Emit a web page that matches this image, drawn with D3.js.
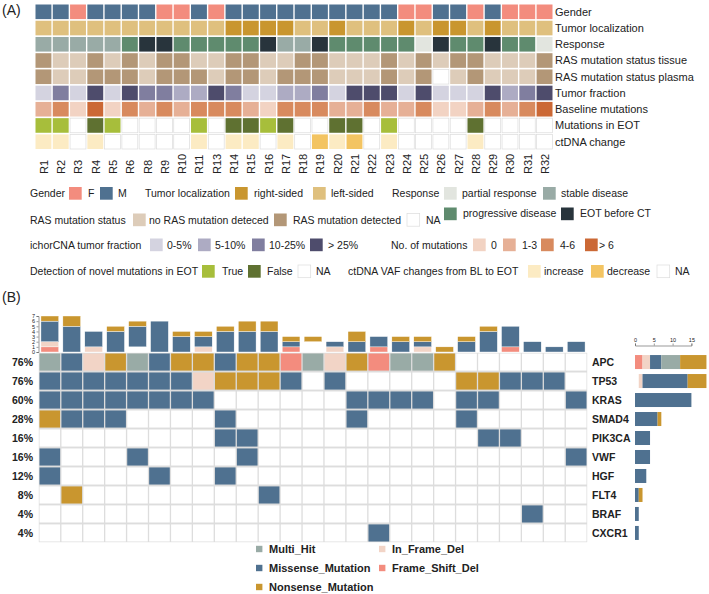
<!DOCTYPE html>
<html><head><meta charset="utf-8">
<script src="https://cdn.jsdelivr.net/npm/d3@7"></script>
<style>
body{margin:0;background:#fff}
text{font-family:"Liberation Sans",Arial,sans-serif;fill:#222}
</style>
</head><body>
<svg id="c" width="709" height="594"></svg>
<script>
// ---------- Panel A data ----------
const samplesA = ["R1","R2","R3","R4","R5","R6","R8","R9","R10","R11","R13","R14","R15","R16","R17","R18","R19","R20","R21","R22","R23","R24","R25","R26","R27","R28","R29","R30","R31","R32"];
const rowNamesA = ["Gender","Tumor localization","Response","RAS mutation status tissue","RAS mutation status plasma","Tumor fraction","Baseline mutations","Mutations in EOT","ctDNA change"];
const gender    = ["M","M","F","M","M","M","M","F","F","M","F","M","M","M","M","M","M","M","M","M","M","F","F","M","M","F","M","F","F","F"];
const tumorLoc  = ["L","L","L","L","L","L","L","L","L","L","L","R","R","R","R","L","L","R","L","L","L","R","L","R","R","L","R","L","L","L"];
const response  = ["S","S","S","S","S","P","E","E","P","P","P","P","P","E","S","S","E","P","P","P","P","P","R","E","P","P","E","P","P","R"];
const rasTissue = ["D","N","N","D","N","D","N","D","D","N","N","D","D","N","N","D","D","N","N","N","D","N","D","N","D","D","N","N","N","D"];
const rasPlasma = ["D","N","N","D","D","D","N","D","D","D","N","D","D","N","D","D","D","N","N","N","D","N","D","NA","N","D","N","N","N","D"];
const tumorFrac = ["0-5%","10-25%","0-5%",">25%","0-5%",">25%","10-25%","10-25%","5-10%","5-10%",">25%","10-25%","0-5%","0-5%","5-10%","5-10%","10-25%","0-5%",">25%",">25%",">25%","0-5%",">25%","0-5%","0-5%","0-5%",">25%","5-10%","10-25%",">25%"];
const baseMut   = ["1-3","4-6","0",">6","0","4-6","1-3","4-6","1-3","4-6","4-6","4-6","1-3","0","4-6","4-6","4-6","1-3","1-3","4-6","1-3","1-3","4-6","0","0","1-3","4-6","1-3","4-6",">6"];
const eotMut    = ["T","T","NA","F","T","NA","NA","NA","NA","T","NA","F","F","T","F","NA","NA","F","F","NA","T","NA","NA","NA","NA","F","NA","NA","NA","NA"];
const ctdnaChg  = ["I","I","NA","I","NA","NA","NA","NA","NA","I","NA","I","I","NA","I","NA","D","I","D","NA","I","NA","NA","NA","NA","I","NA","NA","NA","NA"];

// ---------- Panel B data ----------
const genes = ["APC","TP53","KRAS","SMAD4","PIK3CA","VWF","HGF","FLT4","BRAF","CXCR1"];
const genePct = ["76%","76%","60%","28%","16%","16%","12%","8%","4%","4%"];
// H=Multi_Hit M=Missense N=Nonsense I=In_Frame_Del F=Frame_Shift_Del .=none
const oncoAPC   = "HMINHMNNMNNFHINFHHN......".split("");
const oncoTP53  = "MMMMMMMINNNM.M.....NNMMM.".split("");
const oncoKRAS  = "MMMMMMMM......MMMM.MM...M".split("");
const oncoSMAD4 = "NMMM....M.....M....M.....".split("");
const oncoPIK3CA= "........MM..........MM...".split("");
const oncoVWF   = "M...M....M..............M".split("");
const oncoHGF   = "M....M..M................".split("");
const oncoFLT4  = ".N........M..............".split("");
const oncoBRAF  = "......................M..".split("");
const oncoCXCR1 = "...............M.........".split("");
const oncoRows = [oncoAPC,oncoTP53,oncoKRAS,oncoSMAD4,oncoPIK3CA,oncoVWF,oncoHGF,oncoFLT4,oncoBRAF,oncoCXCR1];
// per-sample variant counts (top bar)
const tmbOther = [0,0,0,0,1,0,0,0,0,0,0,0,2,0,0,0,0,0,0,0,0,0,0,0,0];
const tmbFS    = [1,0,0,0,0,0,0,0,0,0,0,1,0,0,0,1,0,0,0,0,0,1,0,0,0];
const tmbIF    = [1,0,1,0,0,0,0,1,0,0,0,0,0,1,0,0,0,1,0,0,0,0,0,0,0];
const tmbMis   = [4,5,3,4,4,6,3,2,4,4,4,1,0,1,2,2,2,1,0,2,4,4,2,1,2];
const tmbNon   = [1,2,0,1,1,0,1,1,1,2,2,1,1,0,2,0,1,1,1,1,1,0,0,0,0];
const sideOffset = [0,1,0,0,0,0,0,0,0,0];
const topTicks = [0,1,2,3,4,5,6,7];
const sideTicks = [0,5,10,15];

// ---------- colours ----------
const cGender = {F:"#F38C7E", M:"#4F7190"};
const cLoc = {R:"#C9962F", L:"#DFC07E"};
const cResp = {R:"#E2E5DF", S:"#99ABA6", P:"#5F8B6E", E:"#28343C"};
const cRas = {N:"#DDCCB9", D:"#B39777", NA:"#FFFFFF"};
const cFrac = {"0-5%":"#D4D3E0","5-10%":"#ADABC3","10-25%":"#807E9F",">25%":"#4E4C6C"};
const cMut = {"0":"#F2D3C3","1-3":"#E6B096","4-6":"#D88A5E",">6":"#CB6835"};
const cEot = {T:"#A7BE3B", F:"#5F7131", NA:"#FFFFFF"};
const cCt = {I:"#FCEBC3", D:"#F3C462", NA:"#FFFFFF"};
const cVar = {H:"#99ABA6", M:"#4F7190", N:"#C9962F", I:"#F2D4C6", F:"#F38C7E", O:"#FFFFFF"};

const svg = d3.select("#c");

// ---------- Panel A ----------
svg.append("text").attr("x",2).attr("y",15).attr("font-size",14).text("(A)");
const rowsA = [[gender,cGender],[tumorLoc,cLoc],[response,cResp],[rasTissue,cRas],[rasPlasma,cRas],[tumorFrac,cFrac],[baseMut,cMut],[eotMut,cEot],[ctdnaChg,cCt]];
const xA = d3.scaleBand().domain(samplesA).range([35.5,552.5]).paddingInner(0.08);
const yA = d3.scaleBand().domain(rowNamesA).range([4.5,149]).paddingInner(0.1);
const gA = svg.append("g");
rowsA.forEach(([vals,cmap],ri)=>{
  gA.selectAll(null).data(vals).enter().append("rect")
    .attr("x",(d,i)=>xA(samplesA[i])).attr("y",yA(rowNamesA[ri]))
    .attr("width",xA.bandwidth()).attr("height",yA.bandwidth())
    .attr("fill",d=>cmap[d]||"#fff")
    .attr("stroke",d=>(d==="NA")?"#dcdcdc":"none").attr("stroke-width",0.7);
});
gA.selectAll(null).data(rowNamesA).enter().append("text")
  .attr("x",555).attr("y",d=>yA(d)+yA.bandwidth()/2).attr("dy","0.36em")
  .attr("font-size",11).text(d=>d);
gA.selectAll(null).data(samplesA).enter().append("text")
  .attr("transform",d=>`translate(${xA(d)+xA.bandwidth()/2+0.5},174) rotate(-90)`)
  .attr("dy","0.36em").attr("font-size",11).text(d=>d);

// legend A
const legA = svg.append("g").attr("font-size",10.5);
function sw(x,y,c){legA.append("rect").attr("x",x).attr("y",y).attr("width",12.7).attr("height",12.7).attr("fill",c).attr("stroke",c==="#FFFFFF"?"#dcdcdc":"none").attr("stroke-width",0.7);}
function tx(x,y,t){legA.append("text").attr("x",x).attr("y",y).text(t);}
// line 1
tx(30,197,"Gender"); sw(69,187,cGender.F); tx(88,197,"F"); sw(100,187,cGender.M); tx(118,197,"M");
tx(145,197,"Tumor localization"); sw(235,187,cLoc.R); tx(254,197,"right-sided"); sw(313,187,cLoc.L); tx(331,197,"left-sided");
tx(392,197,"Response"); sw(444,187,cResp.R); tx(462,197,"partial response"); sw(543,187,cResp.S); tx(561,197,"stable disease");
sw(444,207.5,cResp.P); tx(463,217,"progressive disease"); sw(561,207.5,cResp.E); tx(580,217,"EOT before CT");
// line 2
tx(30,224,"RAS mutation status"); sw(133,213.5,cRas.N); tx(149,224,"no RAS mutation deteced"); sw(274,213.5,cRas.D); tx(293,224,"RAS mutation detected"); sw(407,213.5,"#FFFFFF"); tx(426,224,"NA");
// line 3
tx(30,248.5,"ichorCNA tumor fraction"); sw(150,238.5,cFrac["0-5%"]); tx(167,248.5,"0-5%"); sw(198,238.5,cFrac["5-10%"]); tx(215,248.5,"5-10%");
sw(252,238.5,cFrac["10-25%"]); tx(269,248.5,"10-25%"); sw(310,238.5,cFrac[">25%"]); tx(328,248.5,"> 25%");
tx(391,248.5,"No. of mutations"); sw(473,238.5,cMut["0"]); tx(491,248.5,"0"); sw(503,238.5,cMut["1-3"]); tx(522,248.5,"1-3");
sw(541,238.5,cMut["4-6"]); tx(560,248.5,"4-6"); sw(585,238.5,cMut[">6"]); tx(599,248.5,"> 6");
// line 4
tx(30,275,"Detection of novel mutations in EOT"); sw(202,265,cEot.T); tx(222,275,"True"); sw(248,265,cEot.F); tx(267,275,"False"); sw(298,265,"#FFFFFF"); tx(316,275,"NA");
tx(348,275,"ctDNA VAF changes from BL to EOT"); sw(528,265,cCt.I); tx(544,275,"increase"); sw(591,265,cCt.D); tx(607,275,"decrease"); sw(657,265,"#FFFFFF"); tx(675,275,"NA");

// ---------- Panel B ----------
svg.append("text").attr("x",2).attr("y",302).attr("font-size",14).text("(B)");
const samplesB = d3.range(1,26).map(i=>"S"+i);
const xB = d3.scaleBand().domain(samplesB).range([39.5,586.5]).paddingInner(0.06);
const yB = d3.scaleBand().domain(genes).range([353.5,541.5]).paddingInner(0.1);
const gB = svg.append("g");
gB.append("rect").attr("x",38.8).attr("y",352.8).attr("width",548.4).attr("height",189.4).attr("fill","#dddddd");
oncoRows.forEach((row,gi)=>{
  gB.selectAll(null).data(row).enter().append("rect")
    .attr("x",(d,i)=>xB(samplesB[i])).attr("y",yB(genes[gi]))
    .attr("width",xB.bandwidth()).attr("height",yB.bandwidth())
    .attr("fill",d=>d==="."?"#ffffff":cVar[d]);
});
gB.selectAll(null).data(genes).enter().append("text")
  .attr("x",33).attr("y",d=>yB(d)+yB.bandwidth()/2).attr("dy","0.36em")
  .attr("text-anchor","end").attr("font-weight","bold").attr("font-size",10.5)
  .text((d,i)=>genePct[i]);
gB.selectAll(null).data(genes).enter().append("text")
  .attr("x",592).attr("y",d=>yB(d)+yB.bandwidth()/2).attr("dy","0.36em")
  .attr("font-weight","bold").attr("font-size",10.5).text(d=>d);

// top stacked bars
const yT = d3.scaleLinear().domain([0,7]).range([352,316]);
const tmbData = samplesB.map((s,i)=>({s, O:tmbOther[i], F:tmbFS[i], I:tmbIF[i], M:tmbMis[i], N:tmbNon[i]}));
const stackT = d3.stack().keys(["O","F","I","M","N"])(tmbData);
const bw = xB.bandwidth()*0.86;
stackT.forEach(layer=>{
  gB.selectAll(null).data(layer).enter().filter(d=>d[1]>d[0]).append("rect")
    .attr("x",d=>xB(d.data.s)+(xB.bandwidth()-bw)/2).attr("y",d=>yT(d[1]))
    .attr("width",bw).attr("height",d=>yT(d[0])-yT(d[1]))
    .attr("fill",cVar[layer.key]).attr("stroke","#fff").attr("stroke-width",0.4);
});
const axT = svg.append("g").attr("transform","translate(38.5,0)")
  .call(d3.axisLeft(yT).tickValues(topTicks).tickFormat(d3.format("d")).tickSize(2).tickPadding(1.5));
axT.selectAll("text").attr("font-size",5.5).attr("font-family","Liberation Sans, Arial, sans-serif").attr("fill","#333");
axT.selectAll("line,path").attr("stroke","#555").attr("stroke-width",0.6);

// side bars
const xS = d3.scaleLinear().domain([0,15]).range([635,691.4]);
const sideKeys = ["F","I","M","H","N"];
const sideData = genes.map((g,gi)=>{
  const o = {g, O:sideOffset[gi]};
  sideKeys.forEach(k=>o[k]=oncoRows[gi].filter(v=>v===k).length);
  return o;
});
const stackS = d3.stack().keys(["O",...sideKeys])(sideData);
const sh = 14;
stackS.forEach(layer=>{
  gB.selectAll(null).data(layer).enter().filter(d=>d[1]>d[0]).append("rect")
    .attr("x",d=>xS(d[0])).attr("y",d=>yB(d.data.g)+(yB.bandwidth()-sh)/2)
    .attr("width",d=>xS(d[1])-xS(d[0])).attr("height",sh)
    .attr("fill",cVar[layer.key]);
});
const axS = svg.append("g").attr("transform","translate(0,345.5)")
  .call(d3.axisTop(xS).tickValues(sideTicks).tickFormat(d3.format("d")).tickSize(2).tickPadding(1.5));
axS.selectAll("text").attr("font-size",5.5).attr("font-family","Liberation Sans, Arial, sans-serif").attr("fill","#333");
axS.selectAll("line,path").attr("stroke","#555").attr("stroke-width",0.6);

// legend B
const legB = [["H","Multi_Hit",256,549],["M","Missense_Mutation",256,568],["N","Nonsense_Mutation",256,587],["I","In_Frame_Del",379,549],["F","Frame_Shift_Del",379,568]];
const gL = svg.append("g");
gL.selectAll(null).data(legB).enter().append("rect")
  .attr("x",d=>d[2]).attr("y",d=>d[3]-3.2).attr("width",6.4).attr("height",6.4).attr("fill",d=>cVar[d[0]]);
gL.selectAll(null).data(legB).enter().append("text")
  .attr("x",d=>d[2]+13).attr("y",d=>d[3]).attr("dy","0.36em")
  .attr("font-weight","bold").attr("font-size",11).text(d=>d[1]);
</script>
</body></html>
